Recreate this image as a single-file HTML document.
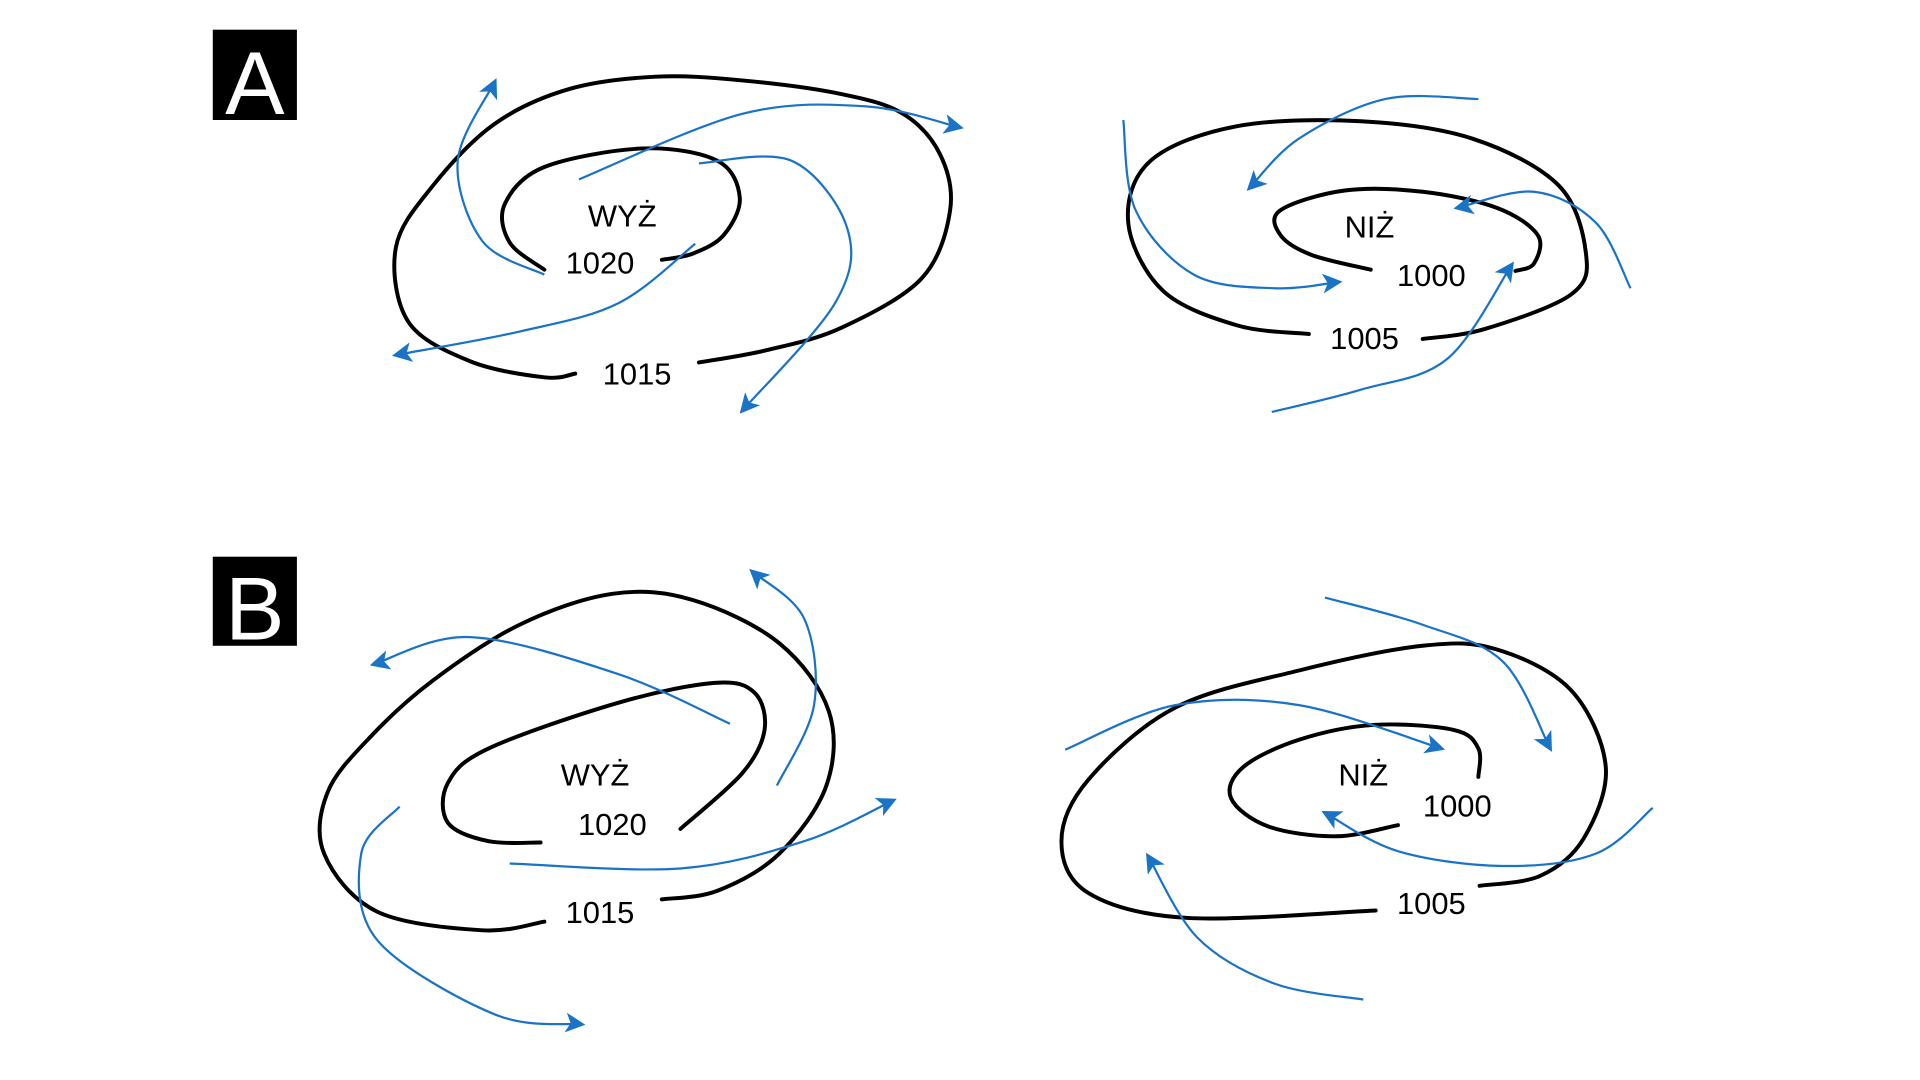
<!DOCTYPE html>
<html><head><meta charset="utf-8"><style>
html,body{margin:0;padding:0;background:#fff;width:1920px;height:1080px;overflow:hidden}
svg{display:block}
text{font-family:"Liberation Sans","DejaVu Sans",sans-serif}
</style></head><body>
<svg id="s" width="1920" height="1080" viewBox="0 0 1552 873" preserveAspectRatio="none">
<defs>
<marker id="ar2" viewBox="0 0 10 10" refX="8" refY="5" markerWidth="21" markerHeight="16" markerUnits="userSpaceOnUse" orient="auto"><path d="M0,0 L10,5 L0,10 L2.5,5 z" fill="#1a73c4"/></marker></defs>
<rect x="172" y="24" width="68" height="73" fill="#000"/>
<text x="206" y="92" font-size="72" fill="#fff" text-anchor="middle">A</text>
<rect x="172" y="450" width="68" height="72" fill="#000"/>
<text x="206" y="517" font-size="72" fill="#fff" text-anchor="middle">B</text>
<g id="g"></g>
<g font-size="25" fill="#000" text-anchor="middle">
<text x="503" y="183">WYŻ</text><text x="485" y="221">1020</text><text x="515" y="311">1015</text>
<text x="1107" y="192">NIŻ</text><text x="1157" y="231">1000</text><text x="1103" y="282">1005</text>
<text x="481" y="635">WYŻ</text><text x="495" y="675">1020</text><text x="485" y="746">1015</text>
<text x="1102" y="635">NIŻ</text><text x="1178" y="660">1000</text><text x="1157" y="739">1005</text>
</g>
</svg>
<script>
var black=[
[[465,302],[440,305],[380,292],[330,260],[320,200],[350,150],[400,100],[460,72],[530,62],[600,65],[680,76],[730,92],[760,125],[768,170],[745,225],[680,265],[620,283],[565,293]],
[[440,218],[412,196],[408,165],[440,135],[520,120],[580,130],[598,160],[585,190],[560,205],[535,210]],
[[1058,270],[1000,263],[940,235],[912,180],[930,130],[1000,102],[1100,98],[1190,112],[1260,150],[1282,205],[1270,238],[1200,266],[1150,274]],
[[1108,218],[1060,206],[1035,190],[1035,170],[1087,154],[1150,155],[1210,168],[1243,190],[1240,213],[1225,219]],
[[440,745],[390,752],[305,737],[262,690],[265,640],[300,595],[350,550],[420,505],[495,480],[560,485],[630,520],[670,575],[668,635],[630,690],[580,720],[535,727]],
[[437,681],[395,680],[362,665],[362,633],[395,605],[500,568],[578,552],[610,560],[618,590],[600,625],[550,670]],
[[1112,736],[960,742],[880,722],[858,680],[880,630],[950,572],[1050,542],[1150,522],[1210,525],[1270,558],[1298,620],[1280,678],[1245,708],[1196,716]],
[[1130,667],[1080,676],[1025,668],[995,645],[1005,620],[1050,598],[1110,586],[1175,590],[1195,605],[1195,628]]];
var blue=[
[[440,222],[390,195],[370,130],[400,66]],
[[468,145],[600,92],[700,86],[776,103]],
[[565,132],[640,130],[685,185],[675,245],[600,332]],
[[562,197],[500,245],[420,268],[320,287]],
[[908,97],[918,170],[965,222],[1030,233],[1082,228]],
[[1195,80],[1120,80],[1050,112],[1010,152]],
[[1318,233],[1290,180],[1240,155],[1178,168]],
[[1028,333],[1100,315],[1170,290],[1222,214]],
[[590,585],[500,545],[380,515],[302,537]],
[[628,635],[658,570],[650,500],[608,462]],
[[412,698],[550,702],[650,680],[722,647]],
[[323,652],[292,690],[305,760],[400,820],[470,828]],
[[861,606],[950,570],[1050,570],[1165,605]],
[[1071,483],[1150,505],[1215,535],[1253,605]],
[[1336,653],[1290,690],[1215,700],[1130,688],[1071,657]],
[[1102,808],[1030,795],[968,758],[928,692]]];
function sm(p){var d="M"+p[0][0]+","+p[0][1];for(var i=0;i<p.length-1;i++){var a=p[i-1]||p[i],b=p[i],c=p[i+1],e=p[i+2]||c;
d+=" C"+(b[0]+(c[0]-a[0])/6)+","+(b[1]+(c[1]-a[1])/6)+" "+(c[0]-(e[0]-b[0])/6)+","+(c[1]-(e[1]-b[1])/6)+" "+c[0]+","+c[1];}return d;}
var g=document.getElementById("g"),h="";
black.forEach(function(p){h+='<path d="'+sm(p)+'" fill="none" stroke="#000" stroke-width="3.2" stroke-linecap="round"/>';});
blue.forEach(function(p){h+='<path d="'+sm(p)+'" fill="none" stroke="#1a73c4" stroke-width="1.8" marker-end="url(#ar2)"/>';});
g.innerHTML=h;
</script>
</body></html>
